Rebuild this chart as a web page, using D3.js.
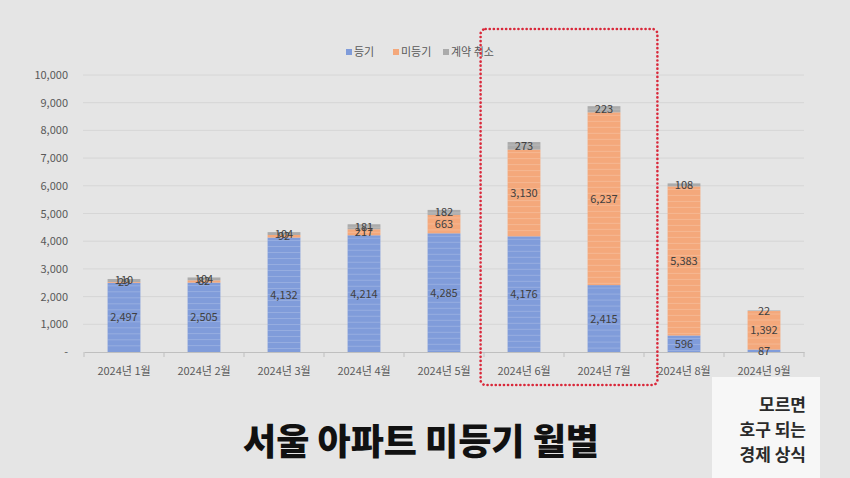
<!DOCTYPE html>
<html>
<head>
<meta charset="utf-8">
<script src="https://cdn.jsdelivr.net/npm/d3@7"></script>
<style>
  html, body { margin: 0; padding: 0; background: #e5e5e5; }
  svg { display: block; }
</style>
</head>
<body>
<svg id="chart" width="850" height="478"></svg>
<script>
const categories = ["2024년 1월","2024년 2월","2024년 3월","2024년 4월","2024년 5월","2024년 6월","2024년 7월","2024년 8월","2024년 9월"];
const seriesNames = ["등기","미등기","계약 취소"];
const registered   = [2497, 2505, 4132, 4214, 4285, 4176, 2415, 596, 87];
const unregistered = [29, 82, 92, 217, 663, 3130, 6237, 5383, 1392];
const cancelled    = [110, 104, 104, 181, 182, 273, 223, 108, 22];
const yTicks = [0,1000,2000,3000,4000,5000,6000,7000,8000,9000,10000];
const highlighted = ["2024년 6월","2024년 7월"];
const titleText = "서울 아파트 미등기 월별";
const badgeLines = ["모르면","호구 되는","경제 상식"];

const colors = ["#809cda", "#f4a87b", "#ababab"];
const font = "'Noto Sans CJK KR', 'Noto Sans', sans-serif";

const svg = d3.select("#chart");
svg.append("rect").attr("width",850).attr("height",478).attr("fill","#e5e5e5");

const x = d3.scaleBand().domain(categories).range([84, 804]).paddingInner(0.59).paddingOuter(0.295);
const y = d3.scaleLinear().domain([0, 10000]).range([352, 75]);

// gridlines
svg.append("g").selectAll("line").data(yTicks.slice(1)).join("line")
  .attr("x1", 83).attr("x2", 804)
  .attr("y1", d => y(d)).attr("y2", d => y(d))
  .attr("stroke", "#d6d6d6").attr("stroke-width", 1);

// y axis labels
const yAxis = d3.axisLeft(y).tickValues(yTicks).tickSize(0).tickPadding(0)
  .tickFormat(d => d === 0 ? "-" : d3.format(",")(d));
const yg = svg.append("g").attr("transform", "translate(68,0)").call(yAxis);
yg.select(".domain").remove();
yg.selectAll("text").attr("font-family", font).attr("font-size", 11).attr("fill", "#595959");

// stacked data
const rows = categories.map((c, i) => ({cat: c, "등기": registered[i], "미등기": unregistered[i], "계약 취소": cancelled[i]}));
const stack = d3.stack().keys(seriesNames)(rows);

const layers = svg.append("g").selectAll("g").data(stack).join("g")
  .attr("fill", (d, i) => colors[i]);
layers.selectAll("rect").data(d => d).join("rect")
  .attr("x", d => x(d.data.cat))
  .attr("width", x.bandwidth())
  .attr("y", d => y(d[1]))
  .attr("height", d => y(d[0]) - y(d[1]));

// faint horizontal texture
const tex = svg.append("g").attr("opacity", 0.18);
stack.forEach(layer => {
  layer.forEach(d => {
    const top = y(d[1]), bot = y(d[0]);
    for (let yy = top + 3; yy < bot - 1; yy += 6) {
      tex.append("line").attr("x1", x(d.data.cat)).attr("x2", x(d.data.cat) + x.bandwidth())
        .attr("y1", yy).attr("y2", yy).attr("stroke", "#ffffff").attr("stroke-width", 1);
    }
  });
});

// x axis
const xAxis = d3.axisBottom(x).tickSize(0).tickPadding(0);
const xg = svg.append("g").attr("transform", "translate(0,352)").call(xAxis);
xg.select(".domain").attr("stroke", "#bfbfbf");
xg.selectAll("text").attr("font-family", font).attr("font-size", 11).attr("fill", "#595959").attr("y", 15);
// category boundary ticks
const bounds = categories.map(c => x(c) - x.step() * x.paddingInner() / 2);
bounds.push(804);
svg.append("g").selectAll("line").data(bounds).join("line")
  .attr("x1", d => d).attr("x2", d => d).attr("y1", 352).attr("y2", 357)
  .attr("stroke", "#bfbfbf");

// value labels
const lab = svg.append("g").attr("font-family", font).attr("font-size", 11).attr("fill", "#404040").attr("text-anchor", "middle");
stack.forEach(layer => {
  layer.forEach(d => {
    lab.append("text")
      .attr("x", x(d.data.cat) + x.bandwidth() / 2)
      .attr("y", (y(d[0]) + y(d[1])) / 2)
      .attr("dy", "0.36em")
      .text(d3.format(",")(d[1] - d[0]));
  });
});

// legend
const legendX = [346, 393, 443];
const lg = svg.append("g");
seriesNames.forEach((s, i) => {
  lg.append("rect").attr("x", legendX[i]).attr("y", 49).attr("width", 6).attr("height", 6).attr("fill", colors[i]);
  lg.append("text").attr("x", legendX[i] + 8).attr("y", 52).attr("dy", "0.36em")
    .attr("font-family", font).attr("font-size", 11).attr("fill", "#595959").text(s);
});

// highlight box
const hx0 = x(highlighted[0]) - 27, hx1 = x(highlighted[1]) + x.bandwidth() + 37;
svg.append("rect").attr("x", hx0).attr("y", 29).attr("width", hx1 - hx0).attr("height", 356)
  .attr("rx", 5).attr("fill", "none").attr("stroke", "#d9283a")
  .attr("stroke-width", 2.6).attr("stroke-dasharray", "0.1 4").attr("stroke-linecap", "round");

// title
svg.append("text").attr("x", 421).attr("y", 455).attr("text-anchor", "middle")
  .attr("font-family", font).attr("font-weight", 900).attr("font-size", 36).attr("fill", "#111")
  .text(titleText);

// badge
svg.append("rect").attr("x", 712).attr("y", 377).attr("width", 108).attr("height", 101).attr("fill", "#f7f7f7");
badgeLines.forEach((t, i) => {
  svg.append("text").attr("x", 806).attr("y", 411 + i * 25).attr("text-anchor", "end")
    .attr("font-family", font).attr("font-weight", 700).attr("font-size", 17).attr("fill", "#2a2a2a").text(t);
});
</script>
</body>
</html>
